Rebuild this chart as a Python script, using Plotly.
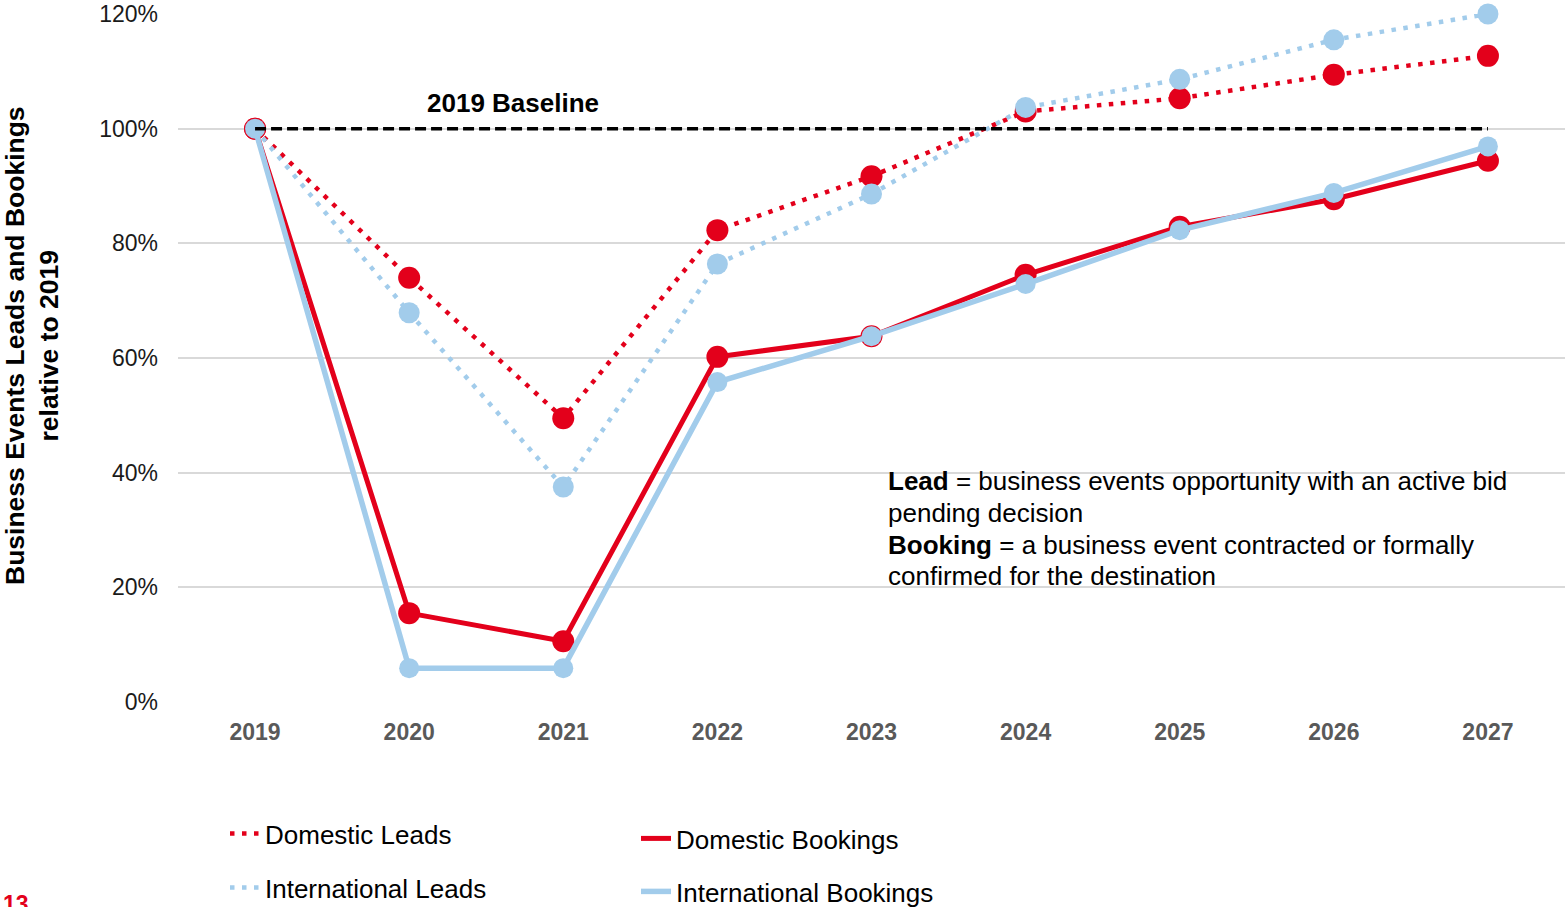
import plotly.graph_objects as go

years = ["2019", "2020", "2021", "2022", "2023", "2024", "2025", "2026", "2027"]
domestic_leads = [100, 74.0, 49.5, 82.3, 91.7, 103.0, 105.3, 109.4, 112.7]
international_leads = [100, 67.9, 37.5, 76.4, 88.6, 103.7, 108.6, 115.5, 120.0]
domestic_bookings = [100, 15.5, 10.6, 60.2, 63.8, 74.5, 82.9, 87.7, 94.4]
international_bookings = [100, 5.9, 5.9, 55.8, 63.8, 72.9, 82.3, 88.8, 96.9]
baseline = [100] * len(years)
y_ticks = [0, 20, 40, 60, 80, 100, 120]
y_tick_labels = [f"{v}%" for v in y_ticks]
definition_lines = [
    "<b>Lead</b> = business events opportunity with an active bid",
    "pending decision",
    "<b>Booking</b> = a business event contracted or formally",
    "confirmed for the destination",
]

RED = "#E3001B"
BLUE = "#A2CCEB"
FONT = "Liberation Sans, Arial, sans-serif"

W, H = 1565, 907
L, R, T, B = 178, 0, 14, 205
PW, PH = W - L - R, H - T - B


def px(x):
    return (x - L) / PW


def py(y):
    return (H - B - y) / PH


DOT = "4.5px,7.5px"
series = [
    ("Domestic Leads", domestic_leads, RED, 4.5, DOT, 22, "legend"),
    ("International Leads", international_leads, BLUE, 4.5, DOT, 21, "legend2"),
    ("Domestic Bookings", domestic_bookings, RED, 5, "solid", 22, "legend3"),
    ("International Bookings", international_bookings, BLUE, 5.5, "solid", 20, "legend4"),
]

fig = go.Figure()
for name, vals, color, width, dash, msize, leg_id in series:
    fig.add_trace(go.Scatter(
        x=years, y=vals, name=name, mode="lines+markers",
        line=dict(color=color, width=width, dash=dash),
        marker=dict(color=color, size=msize), cliponaxis=False,
        showlegend=False))

# legend-only entries (line samples, no markers)
for name, vals, color, width, dash, msize, leg_id in series:
    fig.add_trace(go.Scatter(
        x=[None], y=[None], name=name, mode="lines",
        line=dict(color=color, width=width, dash=dash),
        showlegend=True, legend=leg_id))

fig.add_trace(go.Scatter(
    x=years, y=baseline, name="2019 Baseline", mode="lines", showlegend=False,
    line=dict(color="#000000", width=3.5, dash="11px,5px"), cliponaxis=False))

legend_font = dict(family=FONT, size=26, color="#000000")


def leg(xpx, ypx):
    return dict(x=px(xpx), y=py(ypx), xanchor="left", yanchor="top",
                orientation="v", font=legend_font, bgcolor="rgba(0,0,0,0)",
                borderwidth=0)


fig.update_layout(
    width=W, height=H,
    margin=dict(l=L, r=R, t=T, b=B, autoexpand=False),
    paper_bgcolor="white", plot_bgcolor="white",
    font=dict(family=FONT),
    showlegend=True,
    legend=leg(225, 810),
    legend2=leg(225, 864),
    legend3=leg(636, 815),
    legend4=leg(636, 868),
    xaxis=dict(
        type="category", range=[-0.5, 8.5], showgrid=False, zeroline=False,
        showline=False, ticks="", ticklabelstandoff=14,
        tickfont=dict(family=FONT, size=23, color="#595959", weight="bold"),
    ),
    yaxis=dict(
        range=[0, 120], tickmode="array", tickvals=y_ticks, ticktext=y_tick_labels,
        showgrid=True, gridcolor="#D9D9D9", gridwidth=2, zeroline=False,
        showline=False, ticks="", ticklabelstandoff=19, ticklabeloverflow="allow",
        tickfont=dict(family=FONT, size=23, color="#1a1a1a"),
    ),
)

fig.add_annotation(
    x=px(32), y=py(346), xref="paper", yref="paper", textangle=-90,
    xanchor="center", yanchor="middle",
    text="Business Events Leads and Bookings<br>relative to 2019",
    showarrow=False, font=dict(family=FONT, size=26.5, color="#000000", weight="bold"),
    align="center")

fig.add_annotation(
    x=px(513), y=py(103), xref="paper", yref="paper",
    xanchor="center", yanchor="middle",
    text="<b>2019 Baseline</b>", showarrow=False,
    font=dict(family=FONT, size=26, color="#000000"))

for line_text, ycen in zip(definition_lines, [481, 513, 545, 576]):
    fig.add_annotation(
        x=px(886), y=py(ycen), xref="paper", yref="paper",
        xanchor="left", yanchor="middle",
        text=line_text, showarrow=False, align="left",
        font=dict(family=FONT, size=26, color="#000000"))

fig.add_annotation(
    x=px(1), y=py(889), xref="paper", yref="paper", xanchor="left", yanchor="top",
    text="<b>13</b>", showarrow=False,
    font=dict(family=FONT, size=23, color=RED))

# remove the browser's default 8px page margin so the figure fills the window exactly
fig.write_html(
    "out.html",
    config={"displayModeBar": False},
    post_script="document.body.style.margin='0';document.body.style.overflow='hidden';",
)
